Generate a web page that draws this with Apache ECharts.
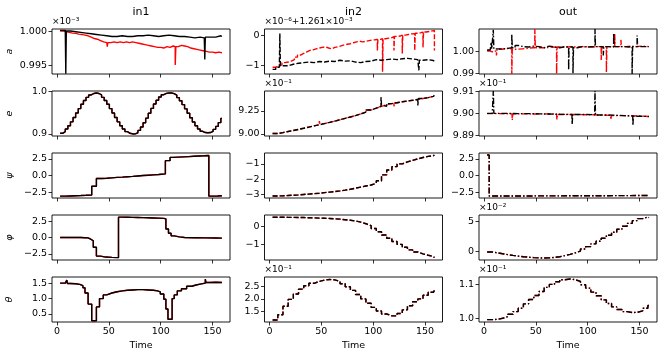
<!DOCTYPE html>
<html><head><meta charset="utf-8">
<script src="https://cdn.jsdelivr.net/npm/echarts@6/dist/echarts.min.js"></script>
<style>html,body{margin:0;padding:0;background:#fff}#c{width:664px;height:358px}</style>
</head><body><div id="c"></div>
<script>
// ---------------- DATA ----------------
const rowNames = ['a', 'e', 'ψ', 'φ', 'θ'];
const colNames = ['in1', 'in2', 'out'];
const xTicks = [0, 50, 100, 150];
const T = [3,8,13,18,23,28,33,38,43,48,53,58,63,68,73,78,83,88,93,98,103,108,113,118,123,128,133,138,143,148,153,158];
const T2 = [3,5.5,8,10.5,13,15.5,18,20.5,23,25.5,28,30.5,33,35.5,38,40.5,43,45.5,48,50.5,53,55.5,58,60.5,63,65.5,68,70.5,73,75.5,78,80.5,83,85.5,88,90.5,93,95.5,98,100.5,103,105.5,108,110.5,113,115.5,118,120.5,123,125.5,128,130.5,133,135.5,138,140.5,143,145.5,148,150.5,153,155.5,158];

// row a
const aIn1Black = [[3,1.0002],[8,1.0001],[8.5,0.9938],[9,1.0001],[13,1.0000],[18,0.9999],[23,0.9998],[28,0.9997],[33,0.9996],[38,0.9995],[43,0.9994],[48,0.9993],[53,0.9993],[58,0.9994],[63,0.9993],[68,0.9993],[73,0.9994],[78,0.9994],[83,0.9995],[88,0.9994],[93,0.9993],[98,0.9994],[103,0.9995],[108,0.9994],[113,0.9993],[118,0.9993],[123,0.9992],[128,0.9991],[133,0.9992],[138,0.9991],[142,0.9991],[142.5,0.9959],[143,0.9992],[148,0.9992],[153,0.9994],[158,0.9993],[159,0.9993]];
const aIn1Red = [[3,1.0001],[6,1.0000],[9,0.9999],[12,0.9998],[15,0.99975],[18,0.99965],[21,0.9996],[24,0.9995],[27,0.9994],[30,0.9992],[33,0.9990],[36,0.9989],[39,0.9987],[42,0.9985],[45,0.9984],[48,0.9983],[48.5,0.9978],[49,0.9984],[52,0.9985],[55,0.9984],[58,0.9985],[61,0.9984],[64,0.9985],[67,0.9984],[70,0.9985],[73,0.9984],[76,0.9983],[79,0.9982],[82,0.9981],[85,0.9980],[88,0.9979],[91,0.9978],[94,0.9977],[97,0.9977],[100,0.9976],[103,0.9978],[106,0.9977],[109,0.9979],[112,0.9978],[114,0.9951],[114.6,0.9978],[117,0.9980],[120,0.9979],[123,0.9978],[126,0.9976],[129,0.9975],[132,0.9974],[135,0.9973],[138,0.9972],[141,0.9971],[144,0.9970],[147,0.9970],[150,0.9969],[153,0.9970],[156,0.9969],[159,0.9970]];
const aIn2Black = [[3,-1.12],[6,-1.05],[9.5,-1.02],[10,0.05],[10.5,-1.0],[13,-1.0],[18,-0.95],[23,-0.92],[28,-0.9],[33,-0.88],[38,-0.9],[43,-0.86],[48,-0.88],[53,-0.85],[58,-0.86],[63,-0.82],[68,-0.85],[73,-0.84],[78,-0.88],[83,-0.9],[88,-0.86],[93,-0.85],[98,-0.8],[103,-0.82],[108,-0.8],[113,-0.78],[118,-0.8],[123,-0.77],[128,-0.76],[133,-0.78],[138,-0.8],[143,-0.82],[144,-1.15],[144.5,-0.82],[148,-0.8],[153,-0.83],[158,-0.85],[159,-0.85]];
const aIn2Red = [[3,-1.05],[6,-1.0],[9,-0.97],[12,-0.9],[15,-0.88],[18,-0.85],[21,-0.8],[24,-0.72],[27,-0.65],[30,-0.6],[33,-0.55],[36,-0.5],[39,-0.48],[42,-0.45],[45,-0.42],[48,-0.4],[51,-0.38],[54,-0.42],[57,-0.45],[60,-0.4],[63,-0.38],[66,-0.35],[69,-0.32],[72,-0.3],[75,-0.28],[78,-0.25],[81,-0.22],[84,-0.2],[87,-0.22],[90,-0.2],[93,-0.18],[96,-0.16],[99,-0.15],[102,-0.14],[104,-0.5],[104.5,-0.14],[107,-0.12],[109,-1.2],[109.5,-0.12],[112,-0.1],[115,-0.08],[118,-0.05],[120,-0.5],[120.5,-0.04],[123,-0.03],[126,0.0],[128,-0.6],[128.5,0.0],[131,0.02],[134,0.04],[137,0.05],[140,-0.5],[140.5,0.06],[143,0.08],[146,0.1],[148,-0.4],[148.5,0.1],[151,0.12],[154,0.14],[157,0.15],[159,-0.5]];
const aOutBlack = [[3,1.0005],[6,1.0005],[7,1.004],[7.5,1.001],[9,1.0095],[9.5,1.001],[13,1.001],[18,1.0012],[23,1.0015],[26.8,1.0075],[27.3,1.0015],[30,1.0025],[33,1.002],[38,1.0018],[43,1.0022],[48,1.002],[53,1.0015],[58,1.0022],[63,1.0018],[68,1.0015],[73,1.002],[78,1.0018],[81.6,0.9915],[82,1.0018],[85.8,0.99],[86.3,1.0015],[90,1.002],[95,1.0018],[100,1.002],[107,1.0099],[107.5,1.002],[113,1.0018],[115,0.998],[115.5,1.002],[120,1.0018],[125,1.008],[125.5,1.002],[130,1.002],[135,1.0018],[140,1.002],[142.8,0.9897],[143.3,1.002],[147.6,1.007],[148.1,1.002],[153,1.002],[159,1.002]];
const aOutRed = [[3,1.0000],[6,0.9995],[9,1.0002],[12,0.998],[12.5,1.0008],[17,1.0012],[22,1.001],[26.8,0.9897],[27.3,1.0008],[32,1.001],[37,1.0012],[42,1.0015],[47,1.0015],[49,1.0099],[49.5,1.0015],[55,1.0015],[60,1.0018],[65,1.0017],[70,0.9897],[70.5,1.0018],[75,1.0018],[80,1.002],[85,1.0018],[90,1.002],[95,1.0019],[100,1.0018],[105,1.002],[110,1.0018],[113,0.996],[113.5,1.002],[118,0.9905],[118.5,1.002],[122,1.002],[126,1.0077],[126.5,1.002],[130,1.002],[132,1.005],[132.5,1.002],[137,1.0022],[142,1.002],[147,1.0022],[152,1.002],[159,1.002]];

// row e
const eIn1 = [0.9017,0.9056,0.9117,0.9195,0.9287,0.9389,0.9496,0.9601,0.9702,0.9792,0.9867,0.9923,0.9958,0.997,0.9958,0.9923,0.9867,0.9792,0.9702,0.9601,0.9496,0.9389,0.9287,0.9195,0.9117,0.9056,0.9017,0.9002,0.9004,0.903,0.9085,0.9165,0.9265,0.9375,0.949,0.9605,0.971,0.98,0.9875,0.993,0.9962,0.997,0.997,0.9955,0.992,0.986,0.9785,0.9695,0.9595,0.949,0.9385,0.9285,0.9195,0.912,0.9065,0.9035,0.903,0.9035,0.906,0.911,0.918,0.927,0.937];
const eIn2 = [9.005,9.015,9.027,9.038,9.05,9.062,9.075,9.088,9.1,9.113,9.126,9.14,9.155,9.17,9.185,9.2,9.218,9.238,9.26,9.28,9.3,9.318,9.33,9.34,9.35,9.358,9.366,9.375,9.385,9.395,9.408,9.42];
const eIn2BlackSpikes = [[88,9.2],[107.5,9.40],[143,9.31]];
const eIn2RedSpikes = [[48,9.14],[120,9.30]];
const eOutBlack = [[3,9.9001],[8,9.9001],[9,9.9103],[9.5,9.9001],[13,9.9001],[23,9.9000],[33,9.9000],[43,9.8999],[53,9.8998],[63,9.8997],[73,9.8996],[84.8,9.8996],[85,9.8952],[85.5,9.8996],[95,9.8995],[106.7,9.8994],[107,9.9103],[107.5,9.8994],[115,9.8993],[125,9.8991],[135,9.8989],[143.4,9.8988],[143.6,9.8946],[144,9.8988],[150,9.8987],[159,9.8987]];
const eOutRed = [[3,9.9],[15,9.8999],[27,9.8999],[27.3,9.8971],[27.8,9.8999],[40,9.8998],[50,9.8999],[55,9.9003],[55.5,9.8998],[70,9.8997],[70.3,9.8973],[70.8,9.8996],[85,9.8995],[100,9.8994],[110,9.8992],[122,9.8991],[122.3,9.8973],[122.8,9.8991],[135,9.8989],[150,9.8987],[159,9.8986]];

// row psi
const psiIn1 = [[3,-3.1],[8,-3.07],[13,-3.04],[18,-3.01],[23,-2.97],[28,-2.92],[33.5,-1.6],[38,-0.45],[43,-0.4],[48,-0.34],[53,-0.28],[58,-0.23],[63,-0.17],[68,-0.12],[73,-0.06],[78,0.0],[83,0.05],[88,0.1],[93,0.15],[98,0.2],[101,0.25],[104.5,2.25],[109,2.74],[112,2.78],[117,2.82],[122,2.86],[127,2.9],[132,2.94],[137,2.98],[142,3.02],[146.4,-3.1],[150,-3.08],[155,-3.05],[159,-3.02]];
const psiIn2 = [-3.1,-3.09,-3.07,-3.05,-3.03,-3.0,-2.98,-2.95,-2.92,-2.88,-2.85,-2.81,-2.77,-2.72,-2.66,-2.59,-2.52,-2.45,-2.38,-2.27,-2.1,-1.72,-1.4,-1.18,-1.0,-0.87,-0.77,-0.67,-0.58,-0.51,-0.46,-0.42];
const psiOut = [[3,3.1],[5,-3.1],[20,-3.09],[40,-3.08],[60,-3.07],[80,-3.06],[100,-3.05],[120,-3.04],[140,-3.02],[159,-3.0]];

// row phi
const phiIn1 = [[3,0.0],[13,-0.01],[23,-0.03],[27,-0.06],[30,-0.2],[32,-0.5],[35,-1.5],[38,-2.85],[42,-3.0],[47,-3.05],[53,-3.08],[59.3,3.12],[63,3.1],[68,3.08],[73,3.07],[78,3.05],[83,3.03],[88,3.0],[93,2.97],[98,2.93],[103,2.85],[105,1.3],[107.5,0.65],[110,0.25],[113,0.1],[118,0.0],[123,-0.03],[133,-0.06],[143,-0.08],[153,-0.1],[159,-0.12]];
const phiIn2 = [0.5,0.5,0.49,0.49,0.48,0.48,0.47,0.46,0.45,0.44,0.43,0.41,0.39,0.36,0.33,0.29,0.23,0.14,0.03,-0.12,-0.3,-0.48,-0.66,-0.84,-1.0,-1.16,-1.3,-1.42,-1.52,-1.6,-1.67,-1.73];
const phiOut = [-0.1,-0.25,-0.4,-0.55,-0.68,-0.8,-0.9,-0.98,-1.05,-1.1,-1.12,-1.1,-1.02,-0.9,-0.72,-0.5,-0.25,0.05,0.4,0.8,1.25,1.7,2.2,2.7,3.2,3.7,4.2,4.7,5.15,5.5,5.75,5.65];

// row theta
const thetaIn1 = [[3,1.5],[8,1.5],[9.5,1.6],[10,1.49],[13,1.48],[18,1.46],[22,1.42],[25,1.35],[27,1.18],[30,0.82],[33.5,0.28],[38,0.73],[41,1.0],[44.6,1.12],[48,1.18],[53,1.22],[58,1.25],[63,1.27],[68,1.28],[73,1.29],[78,1.29],[83,1.28],[88,1.27],[93,1.25],[97,1.22],[99.6,1.15],[103,0.98],[105,0.66],[107,0.33],[111,1.0],[113,1.12],[116,1.25],[120,1.32],[125,1.4],[130,1.44],[134,1.47],[138,1.5],[143,1.63],[143.6,1.52],[148,1.53],[153,1.52],[159,1.5]];
const thetaIn2 = [1.13,1.35,1.7,1.98,2.2,2.4,2.54,2.64,2.72,2.77,2.8,2.78,2.72,2.62,2.5,2.35,2.18,2.0,1.82,1.65,1.5,1.38,1.3,1.3,1.4,1.55,1.72,1.88,2.0,2.15,2.27,2.35];
const thetaOut = [0.996,0.997,1.0,1.005,1.012,1.02,1.03,1.043,1.056,1.068,1.08,1.092,1.101,1.109,1.115,1.117,1.115,1.11,1.1,1.09,1.078,1.067,1.055,1.044,1.034,1.026,1.02,1.017,1.018,1.022,1.03,1.038];

// y ticks (values, labels) and offset texts
const yTickVals = [
  [[0.995,1.000],[-1,0],[0.99,1.00,1.01]],
  [[0.9,1.0],[9.00,9.25],[9.89,9.90,9.91]],
  [[-2.5,0,2.5],[-3,-2,-1],[-2.5,0,2.5]],
  [[-2.5,0,2.5],[-1,0],[0,5]],
  [[0.5,1.0,1.5],[1.5,2.0,2.5],[1.0,1.1]]
];
const yTickLabels = [
  [['0.995','1.000'],['−1','0'],['0.99','1.00','1.01']],
  [['0.9','1.0'],['9.00','9.25'],['9.89','9.90','9.91']],
  [['−2.5','0.0','2.5'],['−3','−2','−1'],['−2.5','0.0','2.5']],
  [['−2.5','0.0','2.5'],['−1','0'],['0','5']],
  [['0.5','1.0','1.5'],['1.5','2.0','2.5'],['1.0','1.1']]
];
const offsetTexts = [
  ['×10⁻³','×10⁻⁶+1.261×10⁻³',''],
  ['','×10⁻¹','×10⁻¹'],
  ['','',''],
  ['','','×10⁻²'],
  ['','×10⁻¹','×10⁻¹']
];

// ---------------- BUILD ----------------
function onGrid(V, spikes, grid) {
  const G = grid || T;
  const pts = G.map((t, i) => [t, V[i]]);
  (spikes || []).forEach(([ts, vs]) => {
    let i = 0;
    while (i + 1 < G.length && G[i + 1] <= ts) i++;
    pts.push([ts, vs], [ts + 0.6, V[i]]);
  });
  pts.sort((p, q) => p[0] - q[0]);
  pts.push([159, V[V.length - 1]]);
  return pts;
}
const panelData = [
  [[aIn1Red, aIn1Black], [aIn2Red, aIn2Black], [aOutRed, aOutBlack]],
  [[onGrid(eIn1, [], T2), onGrid(eIn1, [], T2)], [onGrid(eIn2, eIn2RedSpikes), onGrid(eIn2, eIn2BlackSpikes)], [eOutRed, eOutBlack]],
  [[psiIn1, psiIn1], [onGrid(psiIn2), onGrid(psiIn2)], [psiOut, psiOut]],
  [[phiIn1, phiIn1], [onGrid(phiIn2), onGrid(phiIn2)], [onGrid(phiOut), onGrid(phiOut)]],
  [[thetaIn1, thetaIn1], [onGrid(thetaIn2), onGrid(thetaIn2)], [onGrid(thetaOut), onGrid(thetaOut)]]
];
const yRanges = [
  [[0.99378,1.0004],[-1.27,0.2],[0.9897,1.0099]],
  [[0.8953,1.0017],[8.978,9.467],[9.8898,9.9103]],
  [[-3.38,3.4],[-3.234,-0.286],[-3.4,3.4]],
  [[-3.45,3.45],[-1.86,0.62],[-1.45,6.1]],
  [[0.24,1.7],[1.05,2.9],[0.989,1.123]]
];

const colLeft = [52, 264.5, 479];
const rowTop = [29, 91, 153, 215, 277];
const W = 178, H = 45;
const FONT = 'DejaVu Sans';
const dashStyles = ['solid', [5, 2], [6, 2, 1.5, 2]];

const grids = [], xAxes = [], yAxes = [], series = [], graphics = [];
let k = 0;
for (let r = 0; r < 5; r++) {
  for (let c = 0; c < 3; c++) {
    grids.push({ left: colLeft[c], top: rowTop[r], width: W, height: H, show: true,
      borderColor: '#000', borderWidth: 0.9, backgroundColor: 'transparent', containLabel: false });
    xAxes.push({ type: 'value', gridIndex: k, min: -4.8, max: 166.8, position: 'bottom',
      axisLine: { show: false, onZero: false }, splitLine: { show: false },
      axisTick: { show: true, length: 3.5, customValues: xTicks, lineStyle: { color: '#000', width: 0.8 } },
      axisLabel: { show: r === 4, customValues: xTicks, margin: 5, color: '#000', fontFamily: FONT, fontSize: 9.5 } });
    const tv = yTickVals[r][c], tl = yTickLabels[r][c];
    yAxes.push({ type: 'value', gridIndex: k, min: yRanges[r][c][0], max: yRanges[r][c][1], position: 'left',
      axisLine: { show: false, onZero: false }, splitLine: { show: false },
      axisTick: { show: true, length: 3.5, customValues: tv, lineStyle: { color: '#000', width: 0.8 } },
      axisLabel: { show: true, customValues: tv, margin: 5, color: '#000', fontFamily: FONT, fontSize: 9.5,
        formatter: (v) => { const i = tv.findIndex(x => Math.abs(x - v) < 1e-7); return i >= 0 ? tl[i] : ''; } } });
    const [red, black] = panelData[r][c];
    [[red, '#ff0000'], [black, '#000000']].forEach(([d, col], j) => {
      series.push({ type: 'line', xAxisIndex: k, yAxisIndex: k, data: d, step: 'end', showSymbol: false,
        silent: true, z: 2 + j, clip: true,
        lineStyle: { color: col, width: 1.4, type: dashStyles[c] } });
    });
    if (offsetTexts[r][c]) {
      graphics.push({ type: 'text', left: colLeft[c], top: rowTop[r] - 12,
        style: { text: offsetTexts[r][c], font: '9px ' + FONT, fill: '#000' } });
    }
    k++;
  }
}
colNames.forEach((n, c) => {
  graphics.push({ type: 'text', x: colLeft[c] + W / 2, y: 12,
    style: { text: n, font: '11px ' + FONT, fill: '#000', align: 'center', verticalAlign: 'middle' } });
  graphics.push({ type: 'text', x: colLeft[c] + W / 2, y: 346,
    style: { text: 'Time', font: '9.5px ' + FONT, fill: '#000', align: 'center', verticalAlign: 'middle' } });
});
rowNames.forEach((n, r) => {
  graphics.push({ type: 'text', x: 10, y: rowTop[r] + H / 2, rotation: Math.PI / 2,
    style: { text: n, font: 'italic 9.5px ' + FONT, fill: '#000', align: 'center', verticalAlign: 'middle' } });
});

const chart = echarts.init(document.getElementById('c'), null, { renderer: 'canvas' });
chart.setOption({
  animation: false,
  backgroundColor: '#fff',
  grid: grids, xAxis: xAxes, yAxis: yAxes, series: series, graphic: graphics
});
</script>
</body></html>
